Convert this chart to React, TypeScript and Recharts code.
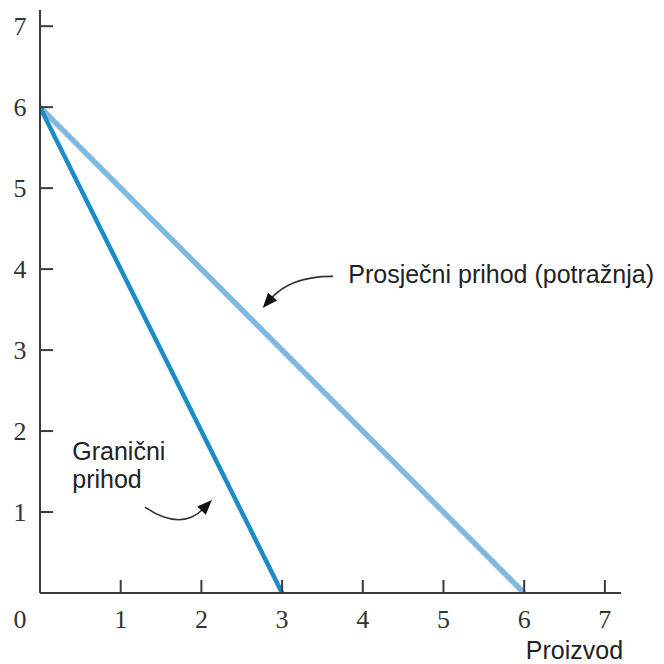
import React from "react";
import { LineChart, Line, XAxis, YAxis, ReferenceDot, ReferenceLine } from "recharts";

const W = 664;
const H = 664;

// x ticks 0..7, y ticks 1..7 (the 0 in the corner belongs to the x axis)
const xTicks = [0, 1, 2, 3, 4, 5, 6, 7];
const yTicks = [1, 2, 3, 4, 5, 6, 7];

// granični prihod (marginal revenue)
const mrQuantity = [0, 3];
const mrRevenue = [6, 0];

// prosječni prihod / potražnja (average revenue, demand)
const arQuantity = [0, 6];
const arRevenue = [6, 0];

const mrData = mrQuantity.map((q, i) => ({ q, p: mrRevenue[i] }));
const arData = arQuantity.map((q, i) => ({ q, p: arRevenue[i] }));

const AXIS = "#3a3a3a";
const DARK_BLUE = "#1d8bc6";
const LIGHT_BLUE = "#80b8df";
const SERIF = "'Liberation Serif', 'DejaVu Serif', serif";
const SANS = "'Liberation Sans', Arial, sans-serif";

const XTick = (props: any) => {
  const { x, y, payload } = props;
  const v = payload.value;
  return (
    <g>
      {v !== 0 && <line x1={x} y1={y} x2={x} y2={y - 13} stroke={AXIS} strokeWidth={2} />}
      <text
        x={v === 0 ? x - 20 : x}
        y={y + 26}
        textAnchor="middle"
        dominantBaseline="central"
        fontFamily={SERIF}
        fontSize={26}
        fill="#333"
      >
        {v}
      </text>
    </g>
  );
};

const YTick = (props: any) => {
  const { x, y, payload } = props;
  return (
    <g>
      <line x1={x} y1={y} x2={x + 13} y2={y} stroke={AXIS} strokeWidth={2} />
      <text
        x={x - 20}
        y={y}
        textAnchor="middle"
        dominantBaseline="central"
        fontFamily={SERIF}
        fontSize={26}
        fill="#333"
      >
        {payload.value}
      </text>
    </g>
  );
};

const note = (lines: string[]) => (props: any) => {
  const { cx, cy } = props;
  return (
    <text x={cx} y={cy} fontFamily={SANS} fontSize={25} fill="#222">
      {lines.map((l, i) => (
        <tspan key={i} x={cx} dy={i === 0 ? 0 : 28}>
          {l}
        </tspan>
      ))}
    </text>
  );
};

// curved arrow from (x1,y1) to tip (x2,y2), bend is a fraction of the chord
const curvedArrow = (bend: number) => (props: any) => {
  const { x1, y1, x2, y2 } = props;
  const dx = x2 - x1;
  const dy = y2 - y1;
  const len = Math.hypot(dx, dy);
  const cx = (x1 + x2) / 2 + (-dy / len) * bend * len;
  const cy = (y1 + y2) / 2 + (dx / len) * bend * len;
  const ax = x2 - cx;
  const ay = y2 - cy;
  const al = Math.hypot(ax, ay);
  const ux = ax / al;
  const uy = ay / al;
  const head = 15;
  const half = 6;
  const bx = x2 - ux * head;
  const by = y2 - uy * head;
  const pts = `${x2},${y2} ${bx - uy * half},${by + ux * half} ${bx + uy * half},${by - ux * half}`;
  return (
    <g>
      <path
        d={`M${x1},${y1} Q${cx},${cy} ${bx + ux * 3},${by + uy * 3}`}
        fill="none"
        stroke="#333"
        strokeWidth={1.6}
      />
      <polygon points={pts} fill="#111" />
    </g>
  );
};

export default function App() {
  return (
    <div style={{ position: "absolute", left: 0, top: 0, width: W, height: H, background: "#fff" }}>
      <LineChart width={W} height={H} margin={{ top: 10, right: 43, left: 0, bottom: 41 }}>
        <XAxis
          type="number"
          dataKey="q"
          domain={[0, 7.2]}
          ticks={xTicks}
          interval={0}
          height={30}
          tickSize={0}
          tickMargin={0}
          tickLine={false}
          axisLine={{ stroke: AXIS, strokeWidth: 2 }}
          tick={<XTick />}
          allowDataOverflow
        />
        <YAxis
          type="number"
          dataKey="p"
          domain={[0, 7.2]}
          ticks={yTicks}
          interval={0}
          width={40}
          tickSize={0}
          tickMargin={0}
          tickLine={false}
          axisLine={{ stroke: AXIS, strokeWidth: 2 }}
          tick={<YTick />}
          allowDataOverflow
        />
        <Line
          data={arData}
          dataKey="p"
          stroke={LIGHT_BLUE}
          strokeWidth={5.5}
          dot={false}
          activeDot={false}
          isAnimationActive={false}
        />
        <Line
          data={mrData}
          dataKey="p"
          stroke={DARK_BLUE}
          strokeWidth={4.5}
          dot={false}
          activeDot={false}
          isAnimationActive={false}
        />
        <ReferenceLine
          segment={[{ x: 3.63, y: 3.91 }, { x: 2.76, y: 3.52 }]}
          shape={curvedArrow(0.23)}
        />
        <ReferenceLine
          segment={[{ x: 1.3, y: 1.06 }, { x: 2.13, y: 1.15 }]}
          shape={curvedArrow(0.42)}
        />
        <ReferenceDot x={3.82} y={3.83} r={0} ifOverflow="visible" shape={note(["Prosječni prihod (potražnja)"])} />
        <ReferenceDot x={0.4} y={1.64} r={0} ifOverflow="visible" shape={note(["Granični", "prihod"])} />
        <ReferenceDot x={6.02} y={-0.82} r={0} ifOverflow="visible" shape={note(["Proizvod"])} />
      </LineChart>
    </div>
  );
}
